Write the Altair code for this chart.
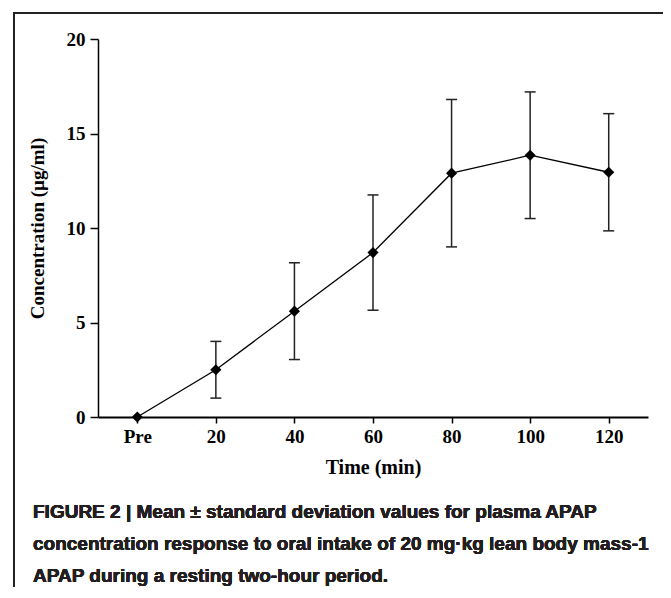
import altair as alt
import pandas as pd

# ---- data ----
times = [0, 20, 40, 60, 80, 100, 120]
tick_labels = ["Pre", "20", "40", "60", "80", "100", "120"]
means = [0.0, 2.5, 5.6, 8.7, 12.9, 13.85, 12.95]
sds = [0.0, 1.5, 2.56, 3.05, 3.9, 3.35, 3.1]
y_ticks = [0, 5, 10, 15, 20]
x_title = "Time (min)"
y_title = "Concentration (µg/ml)"
caption_lines = [
    "FIGURE 2 | Mean ± standard deviation values for plasma APAP",
    "concentration response to oral intake of 20 mg·kg lean body mass-1",
    "APAP during a resting two-hour period.",
]

df = pd.DataFrame({"time": times, "mean": means, "sd": sds})
df["lo"] = df["mean"] - df["sd"]
df["hi"] = df["mean"] + df["sd"]
err = df[df["sd"] > 0]

W, H = 550, 378
PAD = {"left": 90, "top": 31, "right": 15, "bottom": 170}
SERIF = "Liberation Serif"

label_expr = "datum.value == 0 ? '%s' : datum.label" % tick_labels[0]

x = alt.X(
    "time:Q",
    scale=alt.Scale(domain=[-10, 130], nice=False, zero=False),
    axis=alt.Axis(
        values=times, labelExpr=label_expr, title=x_title, tickSize=6,
        labelPadding=4, domainWidth=2, titlePadding=11, titleFontSize=20,
    ),
)
y = alt.Y(
    "mean:Q",
    scale=alt.Scale(domain=[0, 20], nice=False),
    axis=alt.Axis(values=y_ticks, title=y_title, tickSize=8, labelPadding=5,
                  domainWidth=1.5, titlePadding=19, titleFontSize=19),
)

base = alt.Chart(df)

line = base.mark_line(color="black", strokeWidth=1.3).encode(x=x, y=y)
points = base.mark_point(shape="diamond", filled=True, color="black",
                         size=125, opacity=1).encode(x=x, y=y)

ebase = alt.Chart(err)
stems = ebase.mark_rule(color="#222", strokeWidth=1.5).encode(
    x="time:Q", y="lo:Q", y2="hi:Q")
cap_hi = ebase.mark_rule(color="#222", strokeWidth=1.5, xOffset=-5.5, x2Offset=5.5).encode(
    x="time:Q", x2="time:Q", y="hi:Q")
cap_lo = ebase.mark_rule(color="#222", strokeWidth=1.5, xOffset=-5.5, x2Offset=5.5).encode(
    x="time:Q", x2="time:Q", y="lo:Q")

border_top = alt.Chart(df).mark_rule(color="#222", strokeWidth=2).encode(
    x=alt.value(-84), x2=alt.value(W + PAD["right"] + 10), y=alt.value(-26))
border_left = alt.Chart(df).mark_rule(color="#222", strokeWidth=2).encode(
    x=alt.value(-84), y=alt.value(-27), y2=alt.value(H + PAD["bottom"] + 10))

caption = alt.Chart(df).mark_text(
    align="left", baseline="alphabetic", font="Liberation Sans", fontWeight="bold",
    fontSize=19, lineHeight=32, color="#231f20",
).encode(x=alt.value(-65), y=alt.value(479), text=alt.value(caption_lines))

chart = alt.layer(
    border_top, border_left, stems, cap_hi, cap_lo, line, points, caption
).properties(
    width=W, height=H, padding=PAD, autosize=alt.AutoSizeParams(type="none"),
).configure_view(stroke="transparent").configure_axis(
    grid=False, domainColor="black", tickColor="black", tickWidth=1.5,
    labelFont=SERIF, labelFontWeight="bold", labelFontSize=19, labelColor="black",
    titleFont=SERIF, titleFontWeight="bold", titleColor="black",
)

chart.save("out.html", embed_options={"renderer": "svg", "actions": False})
